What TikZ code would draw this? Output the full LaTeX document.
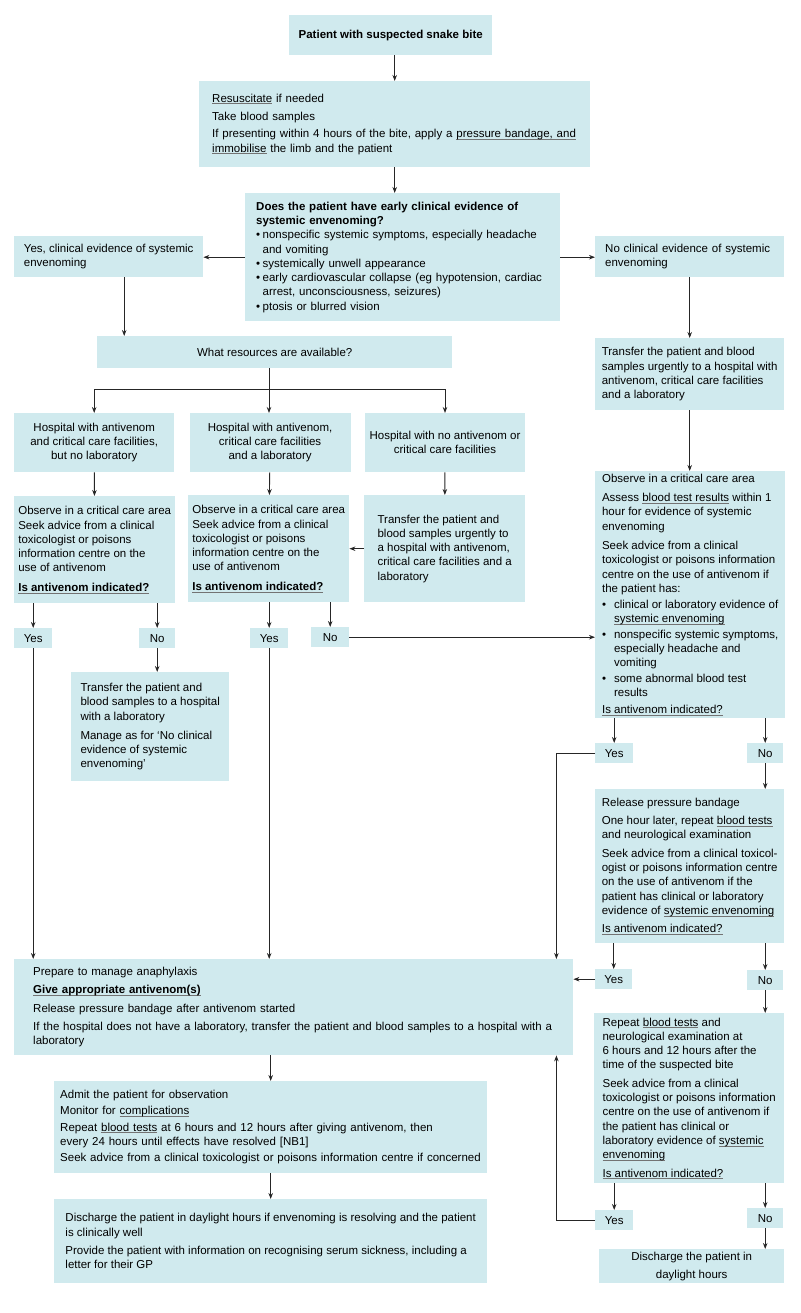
\documentclass[tikz,border=0pt]{standalone}
\usepackage{fontspec}
\setmainfont{Liberation Sans}
\usetikzlibrary{positioning,arrows.meta}
\definecolor{boxblue}{RGB}{208,234,238}
\definecolor{linegray}{RGB}{38,38,38}
\newsavebox\glinebox
\newcommand\gline[1]{\leavevmode\sbox\glinebox{#1}\rlap{\textcolor{black!55}{\rule[-0.28ex]{\wd\glinebox}{0.45pt}}}\usebox\glinebox}
\newcommand\itembul{\makebox[12pt][l]{\textbullet}}
\newcommand\itemgap{\hspace*{12pt}}
\newcommand\qbul{\makebox[6.5pt][l]{\textbullet}}
\newcommand\qgap{\hspace*{6.5pt}}

\begin{document}
\begin{tikzpicture}[x=1pt, y=-1pt,
  font=\fontsize{11.5}{14.3}\selectfont,
  box/.style={fill=boxblue, anchor=north west, align=left, inner sep=0pt,
    execute at begin node={\setlength\parindent{0pt}}},
  cbox/.style={box, align=center},
  ans/.style={cbox, minimum width=38pt, minimum height=20pt},
  link/.style={draw=linegray, line width=0.9pt},
  arr/.style={link, -{Stealth[length=6pt, width=4.5pt]}}]

\useasboundingbox (0,0) rectangle (800,1313);

% first steps
\node[cbox, minimum width=203pt, minimum height=40pt] (bite) at (289,15) {\textbf{Patient with suspected snake bite}};
\node[box, inner xsep=13pt, text width=365pt, minimum height=86pt] (resus) at (199,81) {\gline{Resuscitate} if needed\\[4pt]
  Take blood samples\\[3pt]
  If presenting within 4 hours of the bite, apply a \gline{pressure bandage, and}\\
  \gline{immobilise} the limb and the patient};
\node[box, inner xsep=11pt, text width=293pt, minimum height=128pt] (quest) at (245,193) {\textbf{Does the patient have early clinical evidence of}\\
  \textbf{systemic envenoming?}\\
  \qbul nonspecific systemic symptoms, especially headache\\
  \qgap and vomiting\\
  \qbul systemically unwell appearance\\
  \qbul early cardiovascular collapse (eg hypotension, cardiac\\
  \qgap arrest, unconsciousness, seizures)\\
  \qbul ptosis or blurred vision};
\node[box, minimum width=189pt, minimum height=41pt] (yesev) at (14,236) {Yes, clinical evidence of systemic\\envenoming};
\node[box, inner xsep=10pt, text width=169pt, minimum height=41pt] (noev) at (595,236) {No clinical evidence of systemic\\envenoming};

% left branch
\node[cbox, minimum width=355pt, minimum height=32pt] (res) at (97,336) {What resources are available?};
\node[cbox, minimum width=160pt, minimum height=59pt] (hospA) at (14,413) {Hospital with antivenom\\and critical care facilities,\\but no laboratory};
\node[cbox, minimum width=161pt, minimum height=59pt] (hospB) [right=15pt of hospA] {Hospital with antivenom,\\critical care facilities\\and a laboratory};
\node[cbox, minimum width=160pt, minimum height=59pt] (hospC) [right=14pt of hospB] {Hospital with no antivenom or\\critical care facilities};
\node[box, minimum width=161pt, minimum height=107pt] (obsA) at (14,496) {Observe in a critical care area\\
  Seek advice from a clinical\\
  toxicologist or poisons\\
  information centre on the\\
  use of antivenom\\[5pt]
  \textbf{\gline{Is antivenom indicated?}}};
\node[box, minimum width=161pt, minimum height=107pt] (obsB) at (188,495) {Observe in a critical care area\\
  Seek advice from a clinical\\
  toxicologist or poisons\\
  information centre on the\\
  use of antivenom\\[5pt]
  \textbf{\gline{Is antivenom indicated?}}};
\node[box, minimum width=161pt, minimum height=107pt] (sendC) at (364,495) {Transfer the patient and\\
  blood samples urgently to\\
  a hospital with antivenom,\\
  critical care facilities and a\\
  laboratory};
\node[ans] (yesA) at (14,628) {Yes};
\node[ans, minimum width=36pt] (noA) at (139,628) {No};
\node[ans] (yesB) at (250,628) {Yes};
\node[ans] (noB) at (311,627) {No};
\node[box, minimum width=158pt, minimum height=109pt] (sendA) at (71,672) {Transfer the patient and\\
  blood samples to a hospital\\
  with a laboratory\\[5pt]
  Manage as for `No clinical\\
  evidence of systemic\\
  envenoming'};

% right branch
\node[box, minimum width=189pt, minimum height=72pt] (sendR) at (595,338) {Transfer the patient and blood\\
  samples urgently to a hospital with\\
  antivenom, critical care facilities\\
  and a laboratory};
\node[box, minimum width=190pt, minimum height=247pt] (obsR) at (595,471) {Observe in a critical care area\\[5pt]
  Assess \gline{blood test results} within 1\\
  hour for evidence of systemic\\
  envenoming\\[5pt]
  Seek advice from a clinical\\
  toxicologist or poisons information\\
  centre on the use of antivenom if\\
  the patient has:\\[1.5pt]
  \itembul clinical or laboratory evidence of\\
  \itemgap\gline{systemic envenoming}\\[1.5pt]
  \itembul nonspecific systemic symptoms,\\
  \itemgap especially headache and\\
  \itemgap vomiting\\[1pt]
  \itembul some abnormal blood test\\
  \itemgap results\\[3pt]
  \gline{Is antivenom indicated?}};
\node[ans] (yesR1) at (595,743) {Yes};
\node[ans, minimum width=36pt] (noR1) at (747,743) {No};
\node[box, minimum width=189pt, minimum height=154pt] (relR) at (595,789) {Release pressure bandage\\[4pt]
  One hour later, repeat \gline{blood tests}\\
  and neurological examination\\[4pt]
  Seek advice from a clinical toxicol-\\
  ogist or poisons information centre\\
  on the use of antivenom if the\\
  patient has clinical or laboratory\\
  evidence of \gline{systemic envenoming}\\[4pt]
  \gline{Is antivenom indicated?}};
\node[ans, minimum width=37pt] (yesR2) at (595,969) {Yes};
\node[ans, minimum width=36pt] (noR2) at (747,970) {No};
\node[box, minimum width=190pt, minimum height=170pt] (repR) at (594,1013) {Repeat \gline{blood tests} and\\
  neurological examination at\\
  6 hours and 12 hours after the\\
  time of the suspected bite\\[4pt]
  Seek advice from a clinical\\
  toxicologist or poisons information\\
  centre on the use of antivenom if\\
  the patient has clinical or\\
  laboratory evidence of \gline{systemic}\\
  \gline{envenoming}\\[4pt]
  \gline{Is antivenom indicated?}};
\node[ans] (yesR3) at (595,1210) {Yes};
\node[ans, minimum width=36pt] (noR3) at (747,1208) {No};
\node[cbox, minimum width=185pt, minimum height=34pt] (homeR) at (599,1249) {Discharge the patient in\\[4pt]daylight hours};

% treatment
\node[box, inner xsep=19pt, text width=521pt, minimum height=96pt] (give) at (14,959) {Prepare to manage anaphylaxis\\[4pt]
  \textbf{\gline{Give appropriate antivenom(s)}}\\[4pt]
  Release pressure bandage after antivenom started\\[4pt]
  If the hospital does not have a laboratory, transfer the patient and blood samples to a hospital with a\\
  laboratory};
\node[box, inner xsep=6pt, text width=421pt, minimum height=92pt] (admit) at (54,1081) {Admit the patient for observation\\[2pt]
  Monitor for \gline{complications}\\[2pt]
  Repeat \gline{blood tests} at 6 hours and 12 hours after giving antivenom, then\\
  every 24 hours until effects have resolved [NB1]\\[2pt]
  Seek advice from a clinical toxicologist or poisons information centre if concerned};
\node[box, minimum width=433pt, minimum height=84pt] (home) at (54,1199) {Discharge the patient in daylight hours if envenoming is resolving and the patient\\
  is clinically well\\[4pt]
  Provide the patient with information on recognising serum sickness, including a\\
  letter for their GP};

\coordinate (yesfoot) at ([xshift=15.5pt]yesev.south);
\coordinate (fork) at (269,389);
\coordinate (backin) at ([xshift=-17pt]give.north east);
\coordinate (backup) at ([xshift=-17pt]give.south east);

\draw[arr] (resus.north |- bite.south) -- (resus.north);
\draw[arr] (resus.south) -- (resus.south |- quest.north);
\draw[arr] (quest.west) -- (quest.west -| yesev.east);
\draw[arr] (quest.east) -- (quest.east -| noev.west);
\draw[arr] (yesfoot) -- (yesfoot |- res.north);
\draw[link] (fork |- res.south) -- (fork);
\draw[arr] (fork) -| (hospA.north);
\draw[arr] (fork) -- (fork |- hospB.north);
\draw[arr] (fork) -| (hospC.north);
\draw[arr] (hospA) -- (obsA);
\draw[arr] (hospB) -- (obsB);
\draw[arr] (hospC) -- (sendC);
\draw[arr] (sendC.west) -- (obsB.east);
\draw[arr] (yesA.north |- obsA.south) -- (yesA.north);
\draw[arr] (noA.north |- obsA.south) -- (noA.north);
\draw[arr] (yesB.north |- obsB.south) -- (yesB.north);
\draw[arr] (noB.north |- obsB.south) -- (noB.north);
\draw[arr] (noA.south) -- (noA.south |- sendA.north);
\draw[arr] (yesA.south) -- (yesA.south |- give.north);
\draw[arr] (yesB.south) -- (yesB.south |- give.north);
\draw[arr] (noB.east) -- (noB.east -| obsR.west);

\draw[arr] (noev) -- (noev |- sendR.north);
\draw[arr] (sendR) -- (sendR |- obsR.north);
\draw[arr] (yesR1.north |- obsR.south) -- (yesR1.north);
\draw[arr] (noR1.north |- obsR.south) -- (noR1.north);
\draw[arr] (yesR1.west) -| (backin);
\draw[arr] (noR1.south) -- (noR1.south |- relR.north);
\draw[arr] (yesR2.north |- relR.south) -- (yesR2.north);
\draw[arr] (noR2.north |- relR.south) -- (noR2.north);
\draw[arr] (yesR2.west) -- (yesR2.west -| give.east);
\draw[arr] (noR2.south) -- (noR2.south |- repR.north);
\draw[arr] (yesR3.north |- repR.south) -- (yesR3.north);
\draw[arr] (noR3.north |- repR.south) -- (noR3.north);
\draw[arr] (yesR3.west) -| (backup);
\draw[arr] (noR3.south) -- (noR3.south |- homeR.north);

\draw[arr] (admit.north |- give.south) -- (admit.north);
\draw[arr] (admit) -- (home);

\end{tikzpicture}
\end{document}
